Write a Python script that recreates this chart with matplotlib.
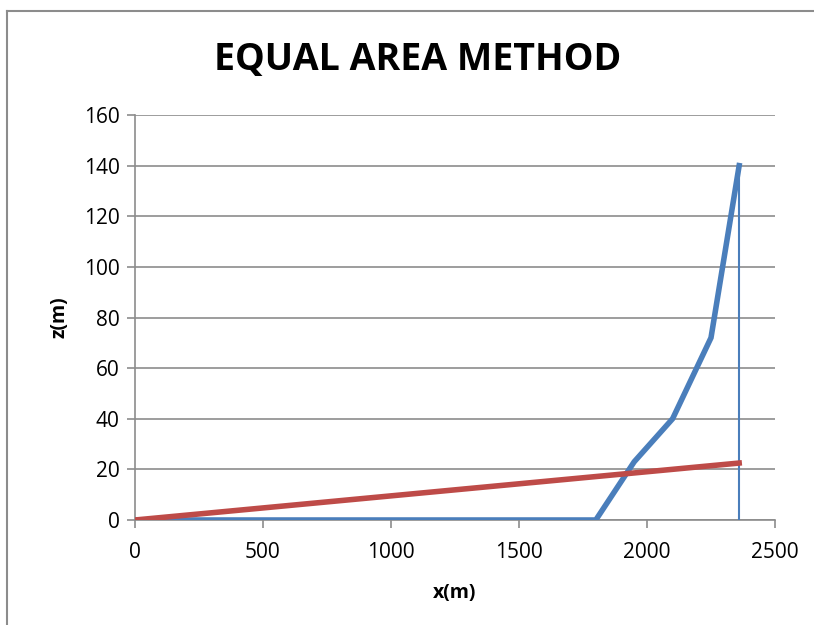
import matplotlib
matplotlib.use("Agg")
import matplotlib.pyplot as plt
from matplotlib.lines import Line2D

# profile points (blue) and equal-area line (red)
profile_x = [0, 1800, 1950, 2100, 2250, 2360]
profile_z = [0, 0, 23, 40, 72, 140]
equal_x = [0, 2360]
equal_z = [0, 22.5]
shore_x = [2360, 2360]
shore_z = [0, 140]

x_ticks = [0, 500, 1000, 1500, 2000, 2500]
y_ticks = [0, 20, 40, 60, 80, 100, 120, 140, 160]

blue = '#4A7EBB'
red = '#BE4B48'
grid_gray = '#8C8C8C'

plt.rcParams['font.family'] = ['Open Sans', 'DejaVu Sans']

fig = plt.figure(figsize=(8.14, 6.25), dpi=100)
ax = fig.add_axes([135 / 814, 105 / 625, 640 / 814, 405 / 625])

# outer chart frame (left and top edges visible)
fig.add_artist(Line2D([7 / 814, 7 / 814], [0, 1 - 11 / 625], color='#8C8C8C', lw=1.5,
                      transform=fig.transFigure))
fig.add_artist(Line2D([7 / 814, 1], [1 - 11 / 625, 1 - 11 / 625], color='#8C8C8C', lw=1.5,
                      transform=fig.transFigure))

ax.plot(shore_x, shore_z, color=blue, lw=1.5, zorder=3)
ax.plot(profile_x, profile_z, color=blue, lw=4, solid_joinstyle='miter', zorder=4)
ax.plot(equal_x, equal_z, color=red, lw=4, zorder=5)

ax.set_xlim(0, 2500)
ax.set_ylim(0, 160)
ax.set_xticks(x_ticks)
ax.set_yticks(y_ticks)
ax.yaxis.grid(True, color=grid_gray, lw=1.2)
ax.set_axisbelow(True)

for side in ['top', 'right']:
    ax.spines[side].set_visible(False)
for side in ['left', 'bottom']:
    ax.spines[side].set_color(grid_gray)
    ax.spines[side].set_linewidth(1.2)

ax.tick_params(axis='both', colors=grid_gray, labelcolor='black', labelsize=15,
               length=6, width=1.2)
ax.tick_params(axis='x', pad=10)
ax.tick_params(axis='y', pad=5)

ax.set_xlabel('x(m)', fontsize=14, fontweight='bold', labelpad=14)
ax.set_ylabel('z(m)', fontsize=14, fontweight='bold', labelpad=10)
fig.text(418 / 814, 1 - 60 / 625, 'EQUAL AREA METHOD', fontsize=27, fontweight='bold',
         ha='center', va='center')

fig.savefig('out.png', dpi=100, facecolor='white')
